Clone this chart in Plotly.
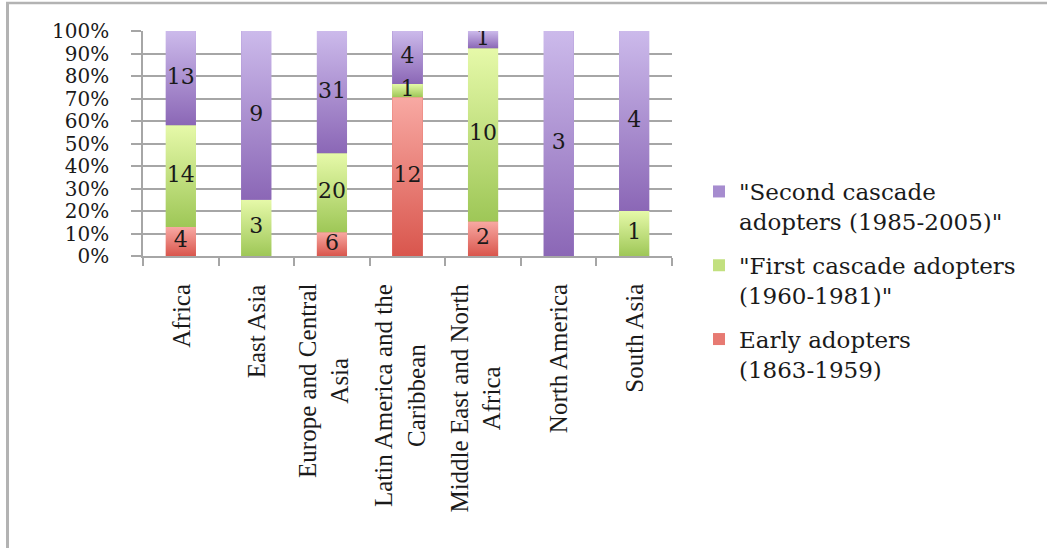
import numpy as np
import plotly.graph_objects as go

# Regions and adopter counts per wave
regions = ["Africa", "East Asia", "Europe and Central Asia",
           "Latin America and the Caribbean", "Middle East and North Africa",
           "North America", "South Asia"]
region_labels = ["Africa", "East Asia", "Europe and Central<br>Asia",
                 "Latin America and the<br>Caribbean", "Middle East and North<br>Africa",
                 "North America", "South Asia"]

early = [4, 0, 6, 12, 2, 0, 0]
first_cascade = [14, 3, 20, 1, 10, 0, 1]
second_cascade = [13, 9, 31, 4, 1, 3, 4]

series_names = ["Early adopters<br>(1863-1959)",
                "\"First cascade adopters<br>(1960-1981)\"",
                "\"Second cascade<br>adopters (1985-2005)\""]

y_ticks = [0, 10, 20, 30, 40, 50, 60, 70, 80, 90, 100]
y_tick_text = [f"{v}%" for v in y_ticks]

# (bottom colour, top colour, flat colour) for each series
palette = [("#d9564d", "#f8a9a3", "#e77a72"),
           ("#9ec757", "#e6f9a9", "#c2e07f"),
           ("#8b67b6", "#ccbaeb", "#a68ccf")]

W, H = 1047, 548
L, R, T, B = 143, 375, 31, 292
PW, PH = W - L - R, H - T - B


def px_x(p):
    return (p - L) / PW


def px_y(p):
    return (H - B - p) / PH


counts = np.array([early, first_cascade, second_cascade], dtype=float)
totals = counts.sum(axis=0)
shares = counts / totals * 100
tops = np.cumsum(shares, axis=0)
bottoms = tops - shares

bar_half = 0.2
fig = go.Figure()

# Stacked 100% bars (carry the legend); newest wave listed first
for k, vals in enumerate([early, first_cascade, second_cascade]):
    fig.add_trace(go.Bar(
        x=regions, y=vals, name=series_names[k],
        marker=dict(color=palette[k][2], line=dict(width=0)),
        legendgroup=f"g{k}", legendrank=3 - k, hoverinfo="skip",
    ))

# Vertical gradient fill on every segment, drawn on an overlaid numeric axis
for k in range(3):
    for i in range(len(regions)):
        if counts[k, i] == 0:
            continue
        y0, y1 = bottoms[k, i], tops[k, i]
        fig.add_trace(go.Scatter(
            x=[i - bar_half, i + bar_half, i + bar_half, i - bar_half, i - bar_half],
            y=[y0, y0, y1, y1, y0],
            xaxis="x2", yaxis="y", mode="lines", line=dict(width=0),
            fill="toself",
            fillgradient=dict(type="vertical", start=y0, stop=y1,
                              colorscale=[[0, palette[k][0]], [1, palette[k][1]]]),
            showlegend=False, hoverinfo="skip",
        ))

# Count labels in the middle of each segment
lx, ly, lt = [], [], []
for k in range(3):
    for i in range(len(regions)):
        if counts[k, i] == 0:
            continue
        lx.append(i)
        ly.append((bottoms[k, i] + tops[k, i]) / 2)
        lt.append(str(int(counts[k, i])))
fig.add_trace(go.Scatter(
    x=lx, y=ly, text=lt, mode="text", xaxis="x2", yaxis="y",
    textfont=dict(family="DejaVu Serif", size=22, color="#1a1a1a"),
    showlegend=False, hoverinfo="skip",
))

# Region names, rotated under each bar; wrapped names sit slightly left
annotations = []
for name, lab in zip(regions, region_labels):
    annotations.append(dict(
        x=name, xref="x", y=px_y(282), yref="paper",
        text=lab, textangle=-90, showarrow=False,
        xanchor="center", yanchor="top", align="center",
        xshift=-8 if "<br>" in lab else 0,
        font=dict(family="Liberation Serif", size=25, color="#1a1a1a"),
    ))

grey = "#a6a6a6"
fig.update_layout(
    width=W, height=H,
    margin=dict(l=L, r=R, t=T, b=B),
    paper_bgcolor="white", plot_bgcolor="white",
    barmode="stack", barnorm="percent", bargap=0.6,
    xaxis=dict(type="category", range=[-0.5, 6.5], showticklabels=False,
               ticks="outside", tickson="boundaries", ticklen=8,
               tickcolor=grey, tickwidth=1.5,
               showline=True, linecolor=grey, linewidth=1.5,
               showgrid=False, zeroline=False, fixedrange=True),
    xaxis2=dict(overlaying="x", range=[-0.5, 6.5], visible=False, fixedrange=True),
    yaxis=dict(range=[0, 100], tickmode="array", tickvals=y_ticks, ticktext=y_tick_text,
               ticks="outside", ticklen=10, tickcolor=grey, tickwidth=1.5,
               ticklabelstandoff=18,
               showline=True, linecolor=grey, linewidth=1.5,
               showgrid=True, gridcolor=grey, gridwidth=1.5,
               zeroline=False, fixedrange=True,
               tickfont=dict(family="DejaVu Serif", size=20, color="#1a1a1a")),
    legend=dict(x=px_x(699), y=px_y(170), xanchor="left", yanchor="top",
                traceorder="grouped", tracegroupgap=11, maxheight=520,
                valign="top", bgcolor="rgba(0,0,0,0)",
                font=dict(family="DejaVu Serif", size=23, color="#1a1a1a")),
    annotations=annotations,
    shapes=[
        dict(type="line", xref="paper", yref="paper",
             x0=px_x(7.5), x1=px_x(7.5), y0=px_y(3), y1=px_y(H),
             line=dict(color="#b3b3b3", width=3)),
        dict(type="line", xref="paper", yref="paper",
             x0=px_x(6), x1=px_x(W), y0=px_y(3), y1=px_y(3),
             line=dict(color="#b3b3b3", width=2.5)),
    ],
    showlegend=True,
)

fig.write_html("out.html")
